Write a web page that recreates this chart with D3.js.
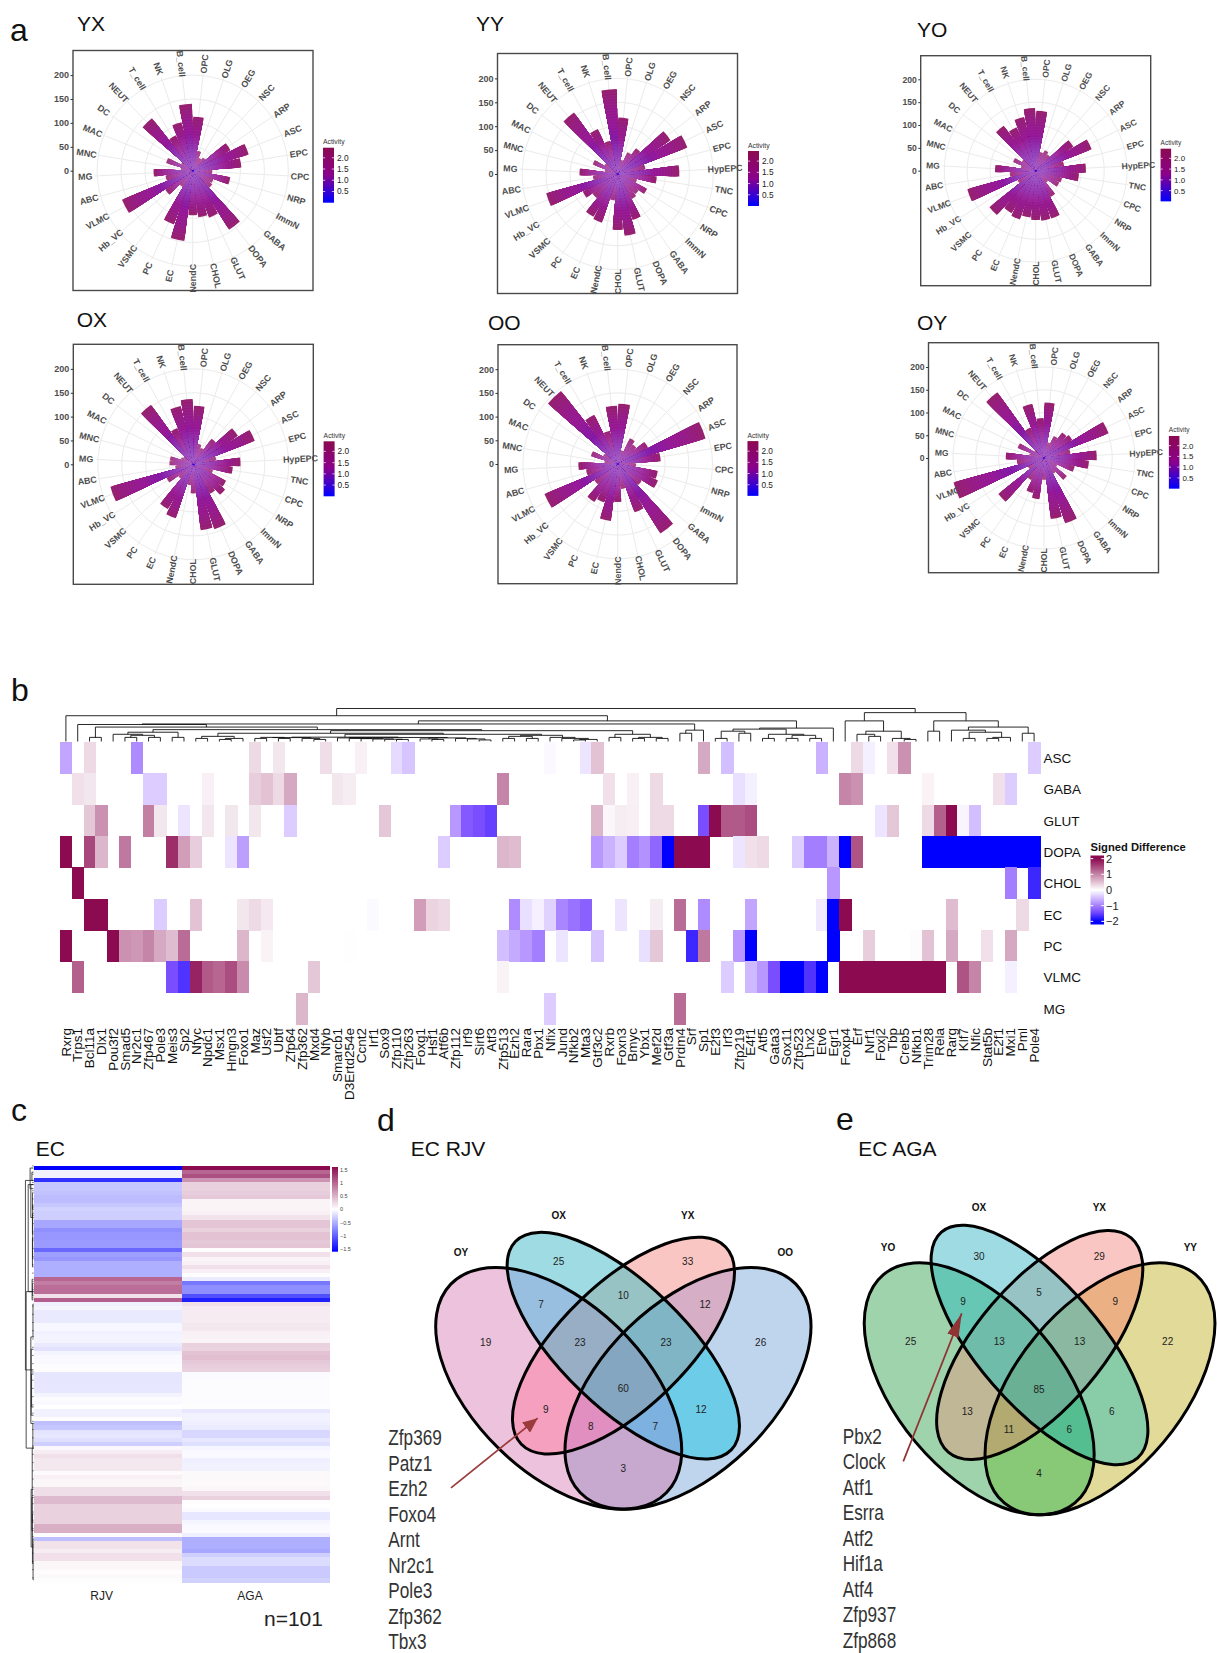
<!DOCTYPE html>
<html><head><meta charset="utf-8">
<script src="https://cdn.jsdelivr.net/npm/d3@7/dist/d3.min.js"></script>
<style>html,body{margin:0;padding:0;background:#fff}svg{display:block;font-family:"Liberation Sans",Arial,sans-serif}</style>
</head><body><svg id="fig" width="1217" height="1653"></svg>
<script>
// ---------- DATA: panel a ----------
const cells31=["OPC","OLG","OEG","NSC","ARP","ASC","EPC","HypEPC","TNC","CPC","NRP","ImmN","GABA","DOPA","GLUT","CHOL","NendC","EC","PC","VSMC","Hb_VC","VLMC","ABC","MG","MNC","MAC","DC","NEUT","T_cell","NK","B_cell"];
const cells29=["OPC","OLG","OEG","NSC","ARP","ASC","EPC","CPC","NRP","ImmN","GABA","DOPA","GLUT","CHOL","NendC","EC","PC","VSMC","Hb_VC","VLMC","ABC","MG","MNC","MAC","DC","NEUT","T_cell","NK","B_cell"];
const valuesYX=[113,43,30,35,90,122,102,41,80,47,50,145,104,98,93,148,119,40,70,160,58,82,25,58,28,139,82,104,140];
const valuesYY=[118,30,50,66,131,156,59,129,82,42,69,56,60,101,130,117,56,107,103,67,82,155,52,80,28,56,33,158,103,71,178];
const valuesYO=[131,42,49,44,98,131,63,110,95,60,58,35,66,110,110,108,103,112,107,129,45,155,57,89,33,53,36,121,104,120,137];
const valuesOX=[123,44,38,66,111,138,49,99,83,43,77,85,71,143,139,61,44,119,108,40,63,180,38,50,50,28,25,153,83,125,137];
const valuesOO=[127,30,60,52,73,193,91,39,86,92,62,172,108,53,80,121,86,94,60,167,68,83,28,59,35,195,115,72,123];
const valuesOY=[122,35,53,69,74,152,59,116,99,70,33,64,40,151,135,48,91,81,56,128,40,206,60,84,33,62,26,177,73,122,88];
const radialTicks=[0,50,100,150,200];
const activityTicks=[0.5,1,1.5,2];

// ---------- DATA: panel b ----------
const genes=["Rxrg","Trps1","Bcl11a","Dlx1","Pou3f2","Smad5","Nr2c1","Zfp467","Pole3","Meis3","Sp2","Nfyc","Npdc1","Msx1","Hmgn3","Foxo1","Maz","Usf2","Ubtf","Zfp64","Zfp362","Mxd4","Nfyb","Smarcb1","D3Ertd254e","Ccnt2","Irf1","Sox9","Zfp110","Zfp263","Foxg1","Hsf1","Atf6b","Zfp112","Irf9","Sirt6","Atf3","Zfp513","Ezh2","Rara","Pbx1","Nfix","Jund","Nfkb2","Mta3","Gtf3c2","Rxrb","Foxn3","Bmyc","Ybx1","Mef2d","Gtf3a","Prdm4","Srf","Sp1","E2f3","Irf3","Zfp219","E4f1","Atf5","Gata3","Sox11","Zfp523","Lhx2","Etv6","Egr1","Foxp4","Erf","Nrf1","Foxj2","Tbp","Creb5","Nfkb1","Trim28","Rela","Rarg","Klf7","Nfic","Stat5b","E2f1","Mxi1","Pml","Pole4"];
const heatRows=["ASC","GABA","GLUT","DOPA","CHOL","EC","PC","VLMC","MG"];
const rowASC=[[0,-.7],[2,.3],[6,-.9],[16,.3],[18,.2],[22,.28],[25,.12],[28,-.28],[29,-.45],[41,-.05],[44,-.2],[45,.5],[54,.7],[56,-.5],[64,-.6],[67,.3],[68,-.12],[70,.25],[71,.9],[82,-.4]];
const rowGABA=[[1,.25],[2,.2],[7,-.4],[8,-.4],[12,.12],[16,.4],[17,.5],[18,.3],[19,.7],[23,.2],[24,.15],[37,1],[46,.25],[48,.12],[50,.3],[57,-.25],[58,-.12],[66,1],[67,.9],[73,.1],[79,.25],[80,-.4]];
const rowGLUT=[[2,.45],[3,.9],[7,1.05],[8,.2],[10,-.2],[12,.2],[14,.2],[16,.2],[19,-.4],[27,.45],[33,-.8],[34,-1.3],[35,-1.4],[36,-1.5],[45,.6],[46,.07],[47,.15],[48,.13],[50,.3],[51,.3],[54,-1.4],[55,2],[56,1.35],[57,1.35],[58,1.45],[69,-.2],[70,.45],[73,.3],[74,1.3],[75,2],[76,-.08],[77,-.5]];
const rowDOPA=[[0,2],[2,1.5],[3,.6],[5,1.1],[9,1.7],[10,.8],[11,.4],[14,-.2],[15,-.75],[32,-.4],[37,.6],[38,.55],[45,-.8],[46,-.6],[47,-.4],[48,-1],[49,-.85],[50,-1.2],[51,-2],[52,2],[53,2],[54,2],[57,-.2],[58,.25],[59,.3],[62,-.4],[63,-1],[64,-1],[65,-.6],[66,-2],[67,1.4],[73,-2],[74,-2],[75,-2],[76,-2],[77,-2],[78,-2],[79,-2],[80,-2],[81,-2],[82,-2]];
const rowCHOL=[[1,2],[65,-.8],[80,-1],[82,-1.7]];
const rowEC=[[2,2],[3,2],[8,-.4],[11,.5],[15,.2],[16,.3],[17,.18],[26,-.04],[30,.8],[31,.35],[32,.3],[38,-.9],[39,-.25],[40,-.12],[41,-.35],[42,-.95],[43,-1.1],[44,-1.25],[47,-.2],[50,.15],[52,1.2],[54,-.9],[58,-.7],[64,-.18],[65,-2],[66,2],[75,.55],[81,.3]];
const rowPC=[[0,2],[4,2],[5,.9],[6,.85],[7,1],[8,.7],[9,.55],[10,1.2],[15,.6],[17,.1],[24,-.01],[37,-.5],[38,-.65],[39,-.8],[40,-1],[42,-.2],[45,-.45],[49,-.25],[50,.45],[53,-1.7],[54,1.1],[57,-.8],[58,-2],[65,-2],[68,.4],[72,.03],[73,.5],[75,.7],[78,.25],[80,.7]];
const rowVLMC=[[1,1.3],[9,-1.4],[10,-1.6],[11,1.8],[12,1.35],[13,1.25],[14,1.45],[15,.95],[21,.45],[37,.1],[56,-.4],[58,-.55],[59,-.8],[60,-1.4],[61,-2],[62,-2],[63,-1.6],[64,-2],[66,2],[67,2],[68,2],[69,2],[70,2],[71,2],[72,2],[73,2],[74,2],[76,1.4],[77,1],[80,-.12]];
const rowMG=[[20,.6],[41,-.4],[52,1.2]];
const signedTicks=[-2,-1,0,1,2];
const dendroB=[32,
 [25,"Rxrg",[20,
  [17,[16.5,"Trps1",[14,[4,"Bcl11a","Dlx1"],
    [11.5,[9,[7,"Pou3f2",[6,[4,"Smad5","Nr2c1"],[4,"Zfp467","Pole3"]]],[4,"Meis3","Sp2"]],
     [10.5,[8,[5,[3,"Nfyc","Npdc1"],[3,[2,"Msx1","Hmgn3"],"Foxo1"]],
       [7,[4.2,[3.8,[4,[3,"Maz","Usf2"],[3,"Ubtf","Zfp64"]],[3,"Zfp362",[2,"Mxd4","Nfyb"]]],
         [3.9,[3.5,"Smarcb1",[3,"D3Ertd254e",[2.8,"Ccnt2",[2.5,"Irf1",[2.2,"Sox9",[2,"Zfp110","Zfp263"]]]]]],
          [3.5,[2.5,"Foxg1",[2,"Hsf1","Atf6b"]],[3,"Zfp112",[2.5,"Irf9",[1.5,"Sirt6","Atf3"]]]]]],
        [6,[5,[3,"Zfp513","Ezh2"],[3,"Rara","Pbx1"]],[4,"Nfix",[3,"Jund",[2,[1.5,"Nfkb2","Mta3"],"Gtf3c2"]]]]]],
      [7,[4,"Rxrb","Foxn3"],[4,[3,"Bmyc","Ybx1"],[3,"Mef2d","Gtf3a"]]]]]]],
   [11,[8,"Prdm4","Srf"],"Sp1"]],
  [13,[12,[10,[3,"E2f3","Irf3"],[8,"Zfp219","E4f1"]],[7,[3,"Atf5","Gata3"],[6,[3,"Sox11","Zfp523"],[3,"Lhx2","Etv6"]]]],"Egr1"]]],
 [28,
  [20,"Foxp4",[10,[7,"Erf",[5,"Nrf1","Foxj2"]],[3,"Tbp",[2,"Creb5","Nfkb1"]]]],
  [20,[10,"Trim28","Rela"],[14,[11,"Rarg",[9,[3,"Klf7","Nfic"],[4,[3,"Stat5b","E2f1"],"Mxi1"]]],[8,"Pml","Pole4"]]]]];

// ---------- DATA: panel c ----------
const colsC=["RJV","AGA"];
const valuesRJV=[-1.6,-.08,-.08,-1.3,-.35,-.35,-.38,-.42,-.42,-.35,-.28,-.3,-.3,-.55,-.55,-.7,-.65,-.65,-.63,-.63,-.95,-.6,-.65,-.5,-.5,-.5,-.5,1,.85,.95,.95,.2,1.05,-.1,-.07,-.13,-.13,-.13,-.05,-.05,-.09,-.07,-.07,-.13,-.18,-.07,-.04,-.04,-.02,.02,-.16,-.16,-.16,-.15,-.15,-.07,-.02,-.04,0,-.09,-.09,.02,-.4,-.35,-.17,-.15,-.2,-.3,.05,.12,.2,.15,.15,.15,.03,.1,.06,.06,.22,.22,.45,.45,.3,.3,.3,.3,.3,.52,.52,.02,-.4,.18,.18,.12,.2,.2,.06,.06,.02,.04,.01];
const valuesAGA=[1.6,1,1.15,.7,.3,.3,.32,.35,.07,.07,.07,.1,.18,.38,.38,.3,.4,.4,.36,.38,.02,.2,.07,.1,.2,.1,.02,-.12,-.85,-.7,-.7,-1.1,-1.4,.2,.13,.13,.13,.13,.15,.15,.1,.09,.07,.3,.28,.4,.42,.35,.32,.3,-.03,-.03,-.02,-.02,-.02,-.02,-.02,-.02,.01,-.15,-.08,-.08,-.1,-.12,-.25,-.25,-.15,-.2,-.06,-.04,-.04,-.1,-.08,-.08,.04,.04,.04,.04,.06,.2,.3,.02,0,-.03,-.15,-.15,-.06,-.04,-.03,-.1,-.5,-.5,-.5,-.55,-.3,-.22,-.22,-.33,-.33,-.33,-.28];
const diffTicks=[-1.5,-1,-.5,0,.5,1,1.5];
const dendroC=[[7.6,3,49],[6.9,30,68],[5,4,30],[3.2,0,5],[1.5,1,3],[2.5,4,12],[1,6,10],[1,11,16],[1,17,24],[.8,9,22],[1.3,27,32],[.8,28,31],[2.5,41,62],[2.2,44,60],[1.8,50,58],[1.2,68,86],[2.2,78,92],[1.5,80,88],[1,84,96],[.4,90,100],[.5,33,41],[.6,62,68]];

// ---------- DATA: panels d, e ----------
const setsD=["OY","OX","YX","OO"];
const countsD={1:19,2:25,4:33,8:26,3:7,6:10,12:12,5:9,10:12,9:3,7:23,14:23,13:8,11:7,15:60};
const genesD=["Zfp369","Patz1","Ezh2","Foxo4","Arnt","Nr2c1","Pole3","Zfp362","Tbx3"];
const setsE=["YO","OX","YX","YY"];
const countsE={1:25,2:30,4:29,8:22,3:9,6:5,12:9,5:13,10:6,9:4,7:13,14:13,13:11,11:6,15:85};
const genesE=["Pbx2","Clock","Atf1","Esrra","Atf2","Hif1a","Atf4","Zfp937","Zfp868"];

// ---------- STYLE / LAYOUT (separate from data) ----------
const svg=d3.select("#fig"), defs=svg.append("defs");
const FONT14=13.5;
function txt(p,s,x,y,size,o={}){return p.append("text").attr("x",x).attr("y",y).attr("font-size",size).attr("fill",o.fill||"#000").attr("font-weight",o.weight||null).attr("text-anchor",o.anchor||"start").text(s);}
[["a",10,41],["b",11,701],["c",11,1121],["d",377,1131],["e",836,1130]].forEach(d=>txt(svg,d[0],d[1],d[2],32,{fill:"#111"}));

// Panel a
const polarPanels=[
 {name:"YX",cats:cells29,vals:valuesYX,cx:192.7,cy:170.7,x0:73,y0:50.5,box:240,tx:77,ty:31,unit:.478},
 {name:"YY",cats:cells31,vals:valuesYY,cx:617.7,cy:174,x0:497.5,y0:53.5,box:240,tx:476,ty:31,unit:.478},
 {name:"YO",cats:cells31,vals:valuesYO,cx:1035.7,cy:170.7,x0:920.7,y0:55.7,box:230,tx:917,ty:36.7,unit:.457},
 {name:"OX",cats:cells31,vals:valuesOX,cx:193.3,cy:464.3,x0:73.3,y0:344.3,box:240,tx:76.7,ty:326.7,unit:.477},
 {name:"OO",cats:cells29,vals:valuesOO,cx:617.7,cy:464,x0:498,y0:344.7,box:239,tx:488,ty:330,unit:.474},
 {name:"OY",cats:cells31,vals:valuesOY,cx:1044,cy:458,x0:928.5,y0:342.7,box:230,tx:917,ty:330,unit:.455}];
const activityDomain=[0,1.25,2.45];
const activityColor=d3.scaleLinear().domain(activityDomain).range(["#0000ff","#8b008b","#8b0a50"]);
const gradA=defs.append("linearGradient").attr("id","gradA").attr("x1",0).attr("x2",0).attr("y1",1).attr("y2",0);
d3.range(0,1.001,.1).forEach(t=>gradA.append("stop").attr("offset",t).attr("stop-color",activityColor(t*2.45)));
polarPanels.forEach(p=>{
  const s=p.box/240, g=svg.append("g");
  txt(g,p.name,p.tx,p.ty,21,{fill:"#111"});
  const r=d3.scaleLinear().domain([0,200]).range([0,200*p.unit]);
  const ang=d3.scaleBand().domain(p.cats).range([0,2*Math.PI]);
  const plot=g.append("g").attr("transform",`translate(${p.cx},${p.cy})`);
  radialTicks.forEach(v=>plot.append("circle").attr("r",r(v)).attr("fill","none").attr("stroke","#ebebeb").attr("stroke-width",1));
  p.cats.forEach(c=>{const t=ang(c)+ang.bandwidth()/2;
    plot.append("line").attr("x2",Math.sin(t)*r(205)).attr("y2",-Math.cos(t)*r(205)).attr("stroke","#ebebeb").attr("stroke-width",1);});
  // bars: each bar is a stack of slices coloured by activity, painted outside-in
  const arc=d3.arc();
  p.cats.forEach((c,i)=>{
    const v=p.vals[i], mid=ang(c)+ang.bandwidth()/2, hw=ang.bandwidth()*.45;
    const n=Math.max(3,Math.round(v/3));
    d3.range(n-1,-1,-1).forEach(k=>{
      const f=(k+1)/n, a=.88+.42*f+.85*Math.pow(f,4);
      const inner=r(v*f)/r(200);
      const tint=.09+.32*Math.max(0,1-inner*2.6)+(k%2===0?.025:0);
      plot.append("path").attr("d",arc({innerRadius:0,outerRadius:r(v*f),startAngle:mid-hw,endAngle:mid+hw}))
        .attr("fill",d3.interpolateRgb(activityColor(a),"#ffffff")(tint));
    });
  });
  plot.append("rect").attr("x",-1).attr("y",-.6).attr("width",2.2).attr("height",1.2).attr("fill","#0000ff");
  p.cats.forEach(c=>{const t=ang(c)+ang.bandwidth()/2, deg=t*180/Math.PI;
    const rot=deg<180?deg-90:deg-270, R=r(225);
    plot.append("text").attr("transform",`translate(${Math.sin(t)*R},${-Math.cos(t)*R}) rotate(${rot})`)
      .attr("text-anchor","middle").attr("dy",".35em").attr("font-size",8.9*s).attr("font-weight","bold").attr("fill","#4d4d4d").text(c);
  });
  g.append("rect").attr("x",p.x0).attr("y",p.y0).attr("width",p.box).attr("height",p.box).attr("fill","none").attr("stroke","#4a4a4a").attr("stroke-width",1.4);
  const yAxis=d3.scaleLinear().domain([0,200]).range([p.cy,p.cy-r(200)]);
  const ax=g.append("g").attr("transform",`translate(${p.x0},0)`).call(d3.axisLeft(yAxis).tickValues(radialTicks).tickSize(2.5*s).tickPadding(1.5));
  ax.select(".domain").remove();
  ax.selectAll("line").attr("stroke","#333");
  ax.selectAll("text").attr("font-size",9*s).attr("font-weight","bold").attr("fill","#4d4d4d").attr("font-family",null);
  const lx=p.cx+130.3*s, lw=11*s;
  const ly=d3.scaleLinear().domain([0,2.45]).range([p.cy+32*s,p.cy-23*s]);
  g.append("rect").attr("x",lx).attr("y",ly(2.45)).attr("width",lw).attr("height",ly(0)-ly(2.45)).attr("fill","url(#gradA)");
  txt(g,"Activity",lx,ly(2.45)-3.5,6.8*s,{fill:"#333"});
  activityTicks.forEach(v=>{
    g.append("line").attr("x1",lx).attr("x2",lx+2.2*s).attr("y1",ly(v)).attr("y2",ly(v)).attr("stroke","#fff").attr("stroke-width",.7);
    g.append("line").attr("x1",lx+lw-2.2*s).attr("x2",lx+lw).attr("y1",ly(v)).attr("y2",ly(v)).attr("stroke","#fff").attr("stroke-width",.7);
    txt(g,d3.format(".1f")(v),lx+lw+3,ly(v)+3,8.3*s,{fill:"#222"});
  });
});

// Panel b
const hx=d3.scaleBand().domain(genes).range([60,1040]);
const hy=d3.scaleBand().domain(heatRows).range([742,1024]);
const signedColor=d3.scaleLinear().domain([-2,-1.4,-.8,0,2]).range(["#0000ff","#7a4dff","#b898ff","#ffffff","#8b0a50"]);
const heat=svg.append("g").attr("shape-rendering","crispEdges");
[rowASC,rowGABA,rowGLUT,rowDOPA,rowCHOL,rowEC,rowPC,rowVLMC,rowMG].forEach((row,ri)=>{
  heat.selectAll(null).data(row).enter().append("rect")
    .attr("x",d=>hx(genes[d[0]])).attr("y",hy(heatRows[ri]))
    .attr("width",hx.bandwidth()+.5).attr("height",hy.bandwidth()+.5).attr("fill",d=>signedColor(d[1]));
});
const gx=svg.append("g").attr("transform","translate(0,1025)").call(d3.axisBottom(hx).tickSize(0).tickPadding(0));
gx.select(".domain").remove();
gx.selectAll("text").attr("font-family",null).attr("font-size",FONT14).attr("fill","#111").attr("text-anchor","end")
  .attr("transform","rotate(-90)").attr("x",-3).attr("y",0).attr("dy",".35em");
const gy=svg.append("g").attr("transform","translate(1040,1)").call(d3.axisRight(hy).tickSize(0).tickPadding(3.5));
gy.select(".domain").remove();
gy.selectAll("text").attr("font-family",null).attr("font-size",FONT14).attr("fill","#111");
const dh=d3.scaleLinear().domain([0,32]).range([741.5,708.5]);
const dendroG=svg.append("g").attr("fill","none").attr("stroke","#111").attr("stroke-width",.9);
(function walk(n){
  if(typeof n==="string")return {x:hx(n)+hx.bandwidth()/2,h:0};
  const a=walk(n[1]), b=walk(n[2]), h=n[0];
  const path=d3.path();
  path.moveTo(a.x,dh(a.h)); path.lineTo(a.x,dh(h)); path.lineTo(b.x,dh(h)); path.lineTo(b.x,dh(b.h));
  dendroG.append("path").attr("d",path.toString());
  return {x:(a.x+b.x)/2,h};
})(dendroB);
const gradS=defs.append("linearGradient").attr("id","gradS").attr("x1",0).attr("x2",0).attr("y1",1).attr("y2",0);
const sl=d3.scaleLinear().domain([-2.2,2.2]).range([924.5,855.5]);
d3.range(0,1.001,.05).forEach(t=>gradS.append("stop").attr("offset",t).attr("stop-color",signedColor(Math.max(-2,Math.min(2,-2.2+4.4*t)))));
svg.append("rect").attr("x",1090.5).attr("y",855.5).attr("width",13.5).attr("height",69).attr("fill","url(#gradS)");
txt(svg,"Signed Difference",1090.5,851,11.2,{weight:"bold",fill:"#111"});
signedTicks.forEach(v=>{
  svg.append("line").attr("x1",1090.5).attr("x2",1093.2).attr("y1",sl(v)).attr("y2",sl(v)).attr("stroke","#fff");
  svg.append("line").attr("x1",1101.3).attr("x2",1104).attr("y1",sl(v)).attr("y2",sl(v)).attr("stroke","#fff");
  txt(svg,String(v).replace("-","\u2212"),1106,sl(v)+4,11,{fill:"#222"});
});

// Panel c
txt(svg,"EC",35.7,1155.7,21,{fill:"#111"});
const cx=d3.scaleBand().domain(colsC).range([34,329]);
const cy=d3.scaleBand().domain(d3.range(valuesRJV.length)).range([1166,1582]);
const diffColor=d3.scaleLinear().domain([-1.6,0,1.6]).range(["#0000ff","#ffffff","#8b0a50"]);
[valuesRJV,valuesAGA].forEach((vals,ci)=>{
  svg.append("g").attr("shape-rendering","crispEdges").selectAll("rect").data(vals).enter().append("rect")
    .attr("x",cx(colsC[ci])).attr("y",(d,i)=>cy(i)).attr("width",cx.bandwidth()+.5).attr("height",cy.bandwidth()+.5).attr("fill",d=>diffColor(d));
});
colsC.forEach(c=>svg.append("text").attr("x",c==="RJV"?101.7:250).attr("y",1600).attr("text-anchor","middle").attr("font-size",12).attr("fill","#222").text(c));
txt(svg,"n=101",264,1625.6,21,{fill:"#222"});
const dcx=d3.scaleLinear().domain([0,8]).range([33.5,25]);
const dcG=svg.append("g").attr("fill","none").attr("stroke","#222").attr("stroke-width",.8);
dendroC.forEach(b=>{
  const x=dcx(b[0]), y1=cy(b[1])+cy.bandwidth()/2, y2=cy(b[2])+cy.bandwidth()/2, p=d3.path();
  p.moveTo(33.5,y1); p.lineTo(x,y1); p.lineTo(x,y2); p.lineTo(33.5,y2);
  dcG.append("path").attr("d",p.toString());
});
d3.range(0,101,2).forEach(i=>dcG.append("line").attr("x1",33.5).attr("x2",32.3).attr("y1",cy(i)).attr("y2",cy(i)));
const cLegend=d3.scaleLinear().domain([-1.6,1.6]).range([1251.7,1167]);
const gradC=defs.append("linearGradient").attr("id","gradC").attr("x1",0).attr("x2",0).attr("y1",1).attr("y2",0);
d3.range(0,1.001,.1).forEach(t=>gradC.append("stop").attr("offset",t).attr("stop-color",diffColor(-1.6+3.2*t)));
svg.append("rect").attr("x",332).attr("y",1167).attr("width",6).attr("height",84.7).attr("fill","url(#gradC)");
diffTicks.forEach(v=>txt(svg,String(v).replace("-","\u2212"),340,cLegend(v)+2,5.5,{fill:"#444"}));

// Panels d, e
function venn(cfg){
  const g=svg.append("g");
  txt(g,cfg.title,cfg.titleX,1155.5,21,{fill:"#111"});
  const px=d3.scaleLinear().domain([0,3]).range([cfg.ox,cfg.ox+1]);
  const py=d3.scaleLinear().domain([0,2.958]).range([1120,1121]);
  cfg.ells.forEach((e,i)=>{
    const t=`rotate(${e[4]} ${e[0]} ${e[1]})`;
    defs.append("clipPath").attr("id",cfg.id+"in"+i).append("ellipse").attr("cx",e[0]).attr("cy",e[1]).attr("rx",e[2]).attr("ry",e[3]).attr("transform",t);
    const m=defs.append("mask").attr("id",cfg.id+"out"+i).attr("maskUnits","userSpaceOnUse").attr("x",0).attr("y",0).attr("width",1217).attr("height",1653);
    m.append("rect").attr("width",1217).attr("height",1653).attr("fill","#fff");
    m.append("ellipse").attr("cx",e[0]).attr("cy",e[1]).attr("rx",e[2]).attr("ry",e[3]).attr("transform",t).attr("fill","#000");
  });
  Object.keys(cfg.counts).forEach(k=>{
    const bits=+k; let host=g;
    cfg.ells.forEach((e,i)=>{
      host=host.append("g");
      if(bits&(1<<i))host.attr("clip-path",`url(#${cfg.id}in${i})`); else host.attr("mask",`url(#${cfg.id}out${i})`);
    });
    host.append("rect").attr("x",cfg.ox).attr("y",1200).attr("width",450).attr("height",330).attr("fill",cfg.colors[k]);
  });
  cfg.ells.forEach(e=>g.append("ellipse").attr("cx",e[0]).attr("cy",e[1]).attr("rx",e[2]).attr("ry",e[3]).attr("transform",`rotate(${e[4]} ${e[0]} ${e[1]})`).attr("fill","none").attr("stroke","#000").attr("stroke-width",3));
  Object.keys(cfg.counts).forEach(k=>{const q=cfg.numPos[k];
    g.append("text").attr("x",px(q[0])).attr("y",py(q[1])).attr("dy",".35em").attr("text-anchor","middle").attr("font-size",10).attr("fill","#222").text(cfg.counts[k]);});
  cfg.sets.forEach((s,i)=>{const q=cfg.setPos[i];
    g.append("text").attr("x",px(q[0])).attr("y",py(q[1])).attr("dy",".35em").attr("text-anchor","middle").attr("font-size",10).attr("font-weight","bold").attr("fill","#111").text(s);});
  cfg.list.forEach((s,i)=>{
    g.append("text").attr("transform",`translate(${cfg.listX},${cfg.listY+i*25.55}) scale(.8,1)`).attr("font-size",21.5).attr("fill","#333").text(s);});
  const mid="arrow"+cfg.id;
  defs.append("marker").attr("id",mid).attr("markerUnits","userSpaceOnUse").attr("viewBox","0 0 10 10").attr("refX",10).attr("refY",5).attr("markerWidth",cfg.headW).attr("markerHeight",cfg.headH).attr("orient","auto").attr("preserveAspectRatio","none")
    .append("path").attr("d","M0,0L10,5L0,10Z").attr("fill",cfg.arrowColor);
  g.append("line").attr("x1",cfg.arrow[0]).attr("y1",cfg.arrow[1]).attr("x2",cfg.arrow[2]).attr("y2",cfg.arrow[3]).attr("stroke",cfg.arrowColor).attr("stroke-width",1.7).attr("marker-end",`url(#${mid})`);
}
venn({id:"d",title:"EC RJV",titleX:410.7,ox:370,sets:setsD,counts:countsD,list:genesD,listX:388.3,listY:1445,
 ells:[[558.7,1388.3,150,85,44],[623.3,1345.7,150,62,44],[623.5,1345.6,142,62.6,-44],[688,1388.3,150,85,-44]],
 colors:{1:"#EDC2DD",2:"#9EDBE3",4:"#FAC6C3",8:"#BFD5EE",3:"#98BFE0",6:"#98C3C5",12:"#D6AEC6",5:"#F5A0BE",10:"#6DCDE8",9:"#C7A8CF",7:"#98AEC4",14:"#80B5C5",13:"#E08FC0",11:"#7DB1E0",15:"#85A6C0"},
 numPos:{1:[347,657],2:[566,420],4:[953,420],8:[1172,657],3:[513,545],6:[760,520],12:[1005,545],5:[527,857],10:[993,857],9:[760,1032],7:[630,657],14:[888,657],13:[662,907],11:[856,907],15:[760,795]},
 setPos:[[273,391],[566,282],[953,282],[1246,391]],arrow:[451,1487.8,537.7,1418.2],arrowColor:"#9c3b3b",headW:15,headH:13});
venn({id:"e",title:"EC AGA",titleX:858.3,ox:820,sets:setsE,counts:countsE,list:genesE,listX:842.7,listY:1443.5,
 ells:[[979.2,1388.8,149,83,50],[1039.5,1345,149.6,61,49],[1039.7,1345,140.8,62.6,-49.5],[1100,1388.8,149,83,-50]],
 colors:{1:"#9FD3AC",2:"#9EDBE3",4:"#FAC6C3",8:"#E2DA98",3:"#66C7B5",6:"#98C3C5",12:"#ECB085",5:"#C0B797",10:"#88CDA8",9:"#88C977",7:"#70BCAB",14:"#8BB8A0",13:"#B2AA70",11:"#55BE90",15:"#6AB094"},
 numPos:{1:[272,654],2:[477,405],4:[838,405],8:[1043,654],3:[429,536],6:[657,510],12:[886,536],5:[442,862],10:[875,862],9:[657,1046],7:[538,654],14:[779,654],13:[567,915],11:[748,915],15:[657,797]},
 setPos:[[204,376],[477,260],[838,260],[1111,376]],arrow:[903.3,1461.4,961.7,1313.4],arrowColor:"#8f3333",headW:24,headH:12});
</script></body></html>
